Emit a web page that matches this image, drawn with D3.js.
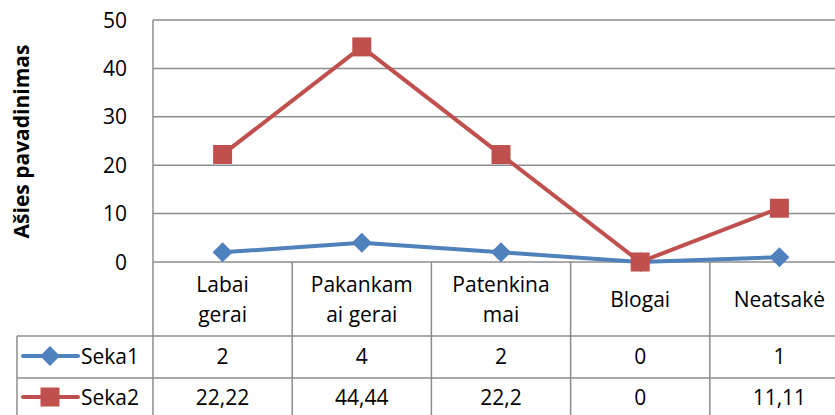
<!DOCTYPE html>
<html><head><meta charset="utf-8">
<script src="https://cdn.jsdelivr.net/npm/d3@7"></script>
<style>body{margin:0;background:#fff}svg{display:block}text{font-family:"Open Sans",Lato,sans-serif;fill:#000}</style>
</head><body>
<svg id="c" width="835" height="415"></svg>
<script>
const categories = [["Labai","gerai"],["Pakankam","ai gerai"],["Patenkina","mai"],["Blogai"],["Neatsakė"]];
const seka1 = [2,4,2,0,1];
const seka2 = [22.22,44.44,22.2,0,11.11];
const seka1Labels = ["2","4","2","0","1"];
const seka2Labels = ["22,22","44,44","22,2","0","11,11"];
const yTicks = [0,10,20,30,40,50];
const seriesNames = ["Seka1","Seka2"];
const colors = ["#4F81BD","#C0504D"];

const svg = d3.select("#c");
const plotLeft = 153, plotTop = 20, plotBottom = 262;
const bandW = 139.2;
const fs = 21;
const x = d3.scaleBand().domain(d3.range(categories.length)).range([plotLeft, plotLeft + bandW*categories.length]).paddingInner(0).paddingOuter(0);
const y = d3.scaleLinear().domain([0,50]).range([plotBottom, plotTop]);
const grid = "#8c8c8c";

// gridlines
svg.append("g").selectAll("line").data(yTicks).join("line")
  .attr("x1", plotLeft).attr("x2", 835).attr("y1", d=>y(d)).attr("y2", d=>y(d))
  .attr("stroke", grid).attr("stroke-width", 1.5);
// left axis line
svg.append("line").attr("x1", plotLeft).attr("x2", plotLeft).attr("y1", plotTop).attr("y2", 415).attr("stroke", grid).attr("stroke-width",1.5);

// y tick labels
svg.append("g").selectAll("text").data(yTicks).join("text")
  .attr("x", 127).attr("y", d=>y(d)+7.5).attr("text-anchor","end")
  .attr("font-size", fs).text(d=>d);

// y title
svg.append("text").attr("transform","translate(29,141.5) rotate(-90)").attr("text-anchor","middle")
  .attr("font-size",fs).attr("font-weight","bold").text("Ašies pavadinimas");

// table
const rowCat = 336, row1 = 378, tableLeft = 17;
svg.append("line").attr("x1", tableLeft).attr("x2", 835).attr("y1", rowCat).attr("y2", rowCat).attr("stroke", grid).attr("stroke-width",1.5);
svg.append("line").attr("x1", tableLeft).attr("x2", 835).attr("y1", row1).attr("y2", row1).attr("stroke", grid).attr("stroke-width",1.5);
svg.append("line").attr("x1", tableLeft).attr("x2", tableLeft).attr("y1", rowCat).attr("y2", 415).attr("stroke", grid).attr("stroke-width",1.5);
svg.append("g").selectAll("line").data(d3.range(1,categories.length+1)).join("line")
  .attr("x1", d=>x(d-1)+bandW).attr("x2", d=>x(d-1)+bandW).attr("y1", plotBottom).attr("y2", 415)
  .attr("stroke", grid).attr("stroke-width",1.5);

// category labels
const catG = svg.append("g").selectAll("text").data(categories).join("text")
  .attr("text-anchor","middle").attr("font-size",fs);
catG.each(function(lines,i){
  const t = d3.select(this);
  const cx = x(i)+bandW/2;
  const n = lines.length;
  lines.forEach((l,j)=>{
    t.append("tspan").attr("x", cx).attr("y", 307 + (j-(n-1)/2)*30).text(l);
  });
});

// values rows
const rows = [seka1Labels, seka2Labels];
const rowY = [356, 397];
const rowBase = [363.5, 405];
rows.forEach((r,k)=>{
  svg.append("g").selectAll("text").data(r).join("text")
    .attr("x",(d,i)=>x(i)+bandW/2).attr("y", rowBase[k])
    .attr("text-anchor","middle").attr("font-size",fs).text(d=>d);
});

// markers
function marker(g, k, cx, cy){
  if(k===0){
    g.append("path").attr("d", `M${cx},${cy-10}L${cx+10},${cy}L${cx},${cy+10}L${cx-10},${cy}Z`).attr("fill", colors[0]);
  } else {
    g.append("rect").attr("x",cx-9.5).attr("y",cy-9.5).attr("width",19).attr("height",19).attr("fill",colors[1]);
  }
}

// legend keys in table
seriesNames.forEach((s,k)=>{
  const g = svg.append("g");
  g.append("line").attr("x1",23).attr("x2",78).attr("y1",rowY[k]).attr("y2",rowY[k]).attr("stroke",colors[k]).attr("stroke-width",4).attr("stroke-linecap","round");
  marker(g,k,50,rowY[k]);
  g.append("text").attr("x",81).attr("y",rowBase[k]).attr("font-size",fs).text(s);
});

// lines
const line = d3.line().x((d,i)=>x(i)+bandW/2).y(d=>y(d));
[seka1, seka2].forEach((data,k)=>{
  const g = svg.append("g");
  g.append("path").datum(data).attr("d", line).attr("fill","none").attr("stroke",colors[k]).attr("stroke-width",4).attr("stroke-linejoin","round");
});
[seka1, seka2].forEach((data,k)=>{
  const g = svg.append("g");
  data.forEach((d,i)=>marker(g,k,x(i)+bandW/2,y(d)));
});
</script>
</body></html>
